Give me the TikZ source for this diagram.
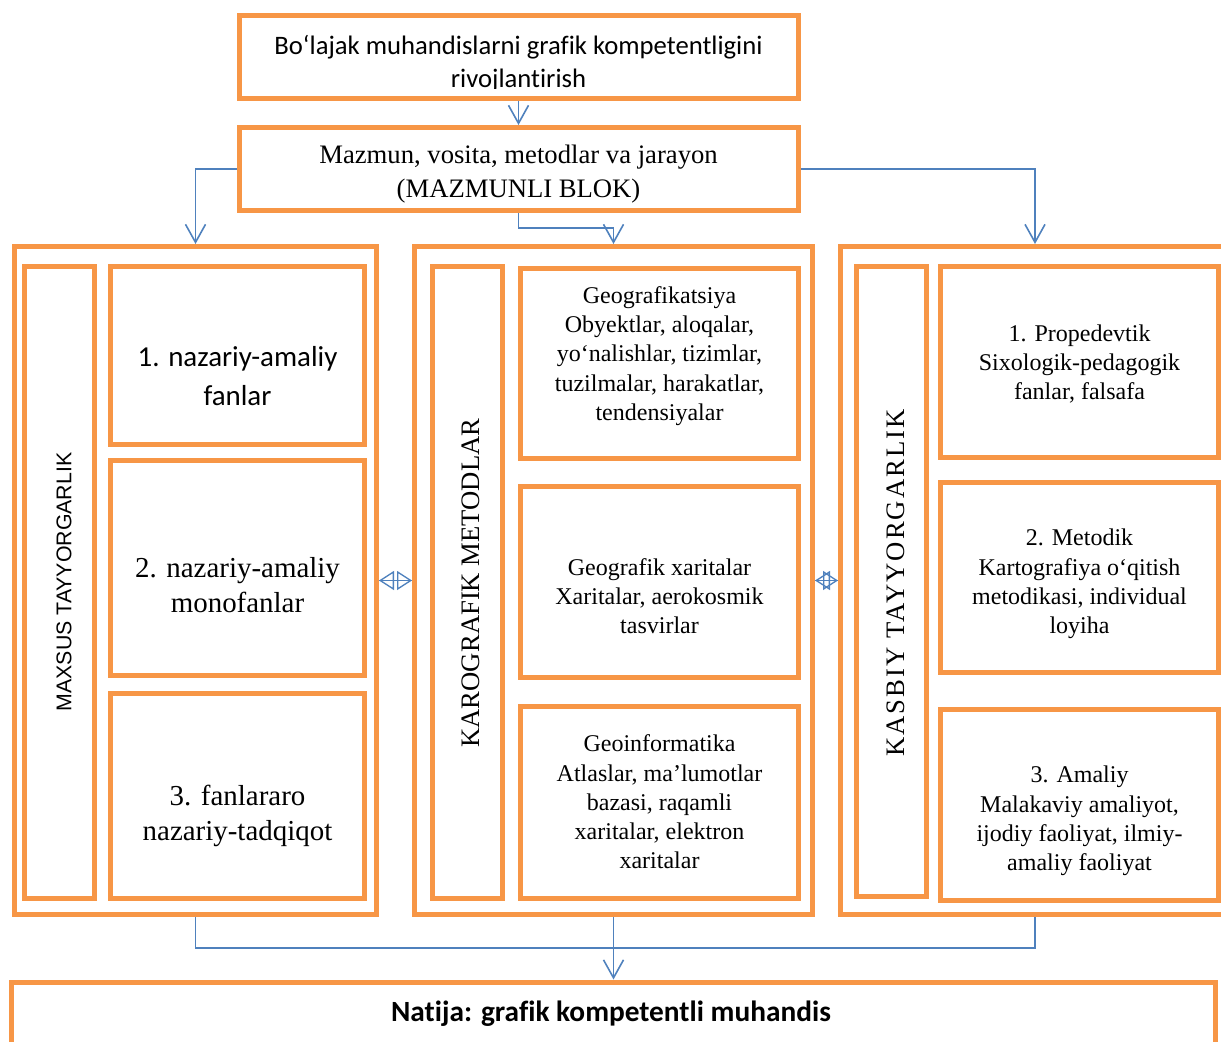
\documentclass[tikz,border=0pt]{standalone}
\usepackage{fontspec}
\usepackage{tikz}
\usepackage{xcolor}
\usetikzlibrary{arrows.meta,positioning,calc}
\setmainfont[Ligatures={TeX,NoCommon}]{Liberation Serif}
\newfontfamily\calibrifont[Ligatures=NoCommon]{Carlito}
\newfontfamily\arialfont{Liberation Sans}
\newfontfamily\spacedfont[LetterSpace=7.5]{Liberation Serif}
\definecolor{boxorange}{HTML}{F79646}
\definecolor{linkblue} {HTML}{4F81BD}
\tikzset{
  pxsize/.style 2 args ={minimum width=#1*0.75pt, minimum height=#2*0.75pt},
  framebox/.style ={draw=boxorange, fill=white, line width=3.75pt, inner sep=0pt},
  boxtext/.style  ={align=center, inner sep=0pt, font=\fontsize{18}{21.9}\selectfont},
  bigtext/.style  ={align=center, inner sep=0pt, font=\fontsize{21.7}{26.25}\selectfont},
  sidetext/.style ={inner sep=0pt, rotate=90},
  linkline/.style ={draw=linkblue, line width=1.2pt},
  downarr/.style  ={-{Straight Barb[length=13.5pt,width=15pt]}, draw=linkblue, line width=1.2pt},
  bothtips/.style ={arrows={Triangle[open,length=11.25pt,width=14.25pt]-Triangle[open,length=11.25pt,width=14.25pt]},
                    draw=linkblue, line width=1pt},
}

\begin{document}
\begin{tikzpicture}[x=0.75pt,y=-0.75pt]
    \useasboundingbox (0,0) rectangle (1221,1042);

    % ----- head boxes -----
    \node[framebox,pxsize={559}{83}] (goal) at (518.5,56.5) {};
    \begin{scope}
      \clip (241,17) rectangle (796,88.5);
      \node[align=center, inner sep=0pt, font=\calibrifont\fontsize{20}{24.75}\selectfont]
        (goaltext) at (518.5,63.5) {Bo‘lajak muhandislarni grafik kompetentligini\\rivojlantirish};
    \end{scope}

    \node[framebox,pxsize={559}{83}] (maz) at (518.5,169) {};
    \node[align=center, inner sep=0pt, font=\fontsize{20}{25.5}\selectfont]
      (maztext) at (518.5,174) {Mazmun, vosita, metodlar va jarayon\\(MAZMUNLI BLOK)};

    % ----- outer containers -----
    \node[framebox,pxsize={362}{668}] (outL) at (195.5,580.5) {};
    \node[framebox,pxsize={398}{668}] (outM) at (613.5,580.5) {};
    \node[framebox,pxsize={389}{668}] (outR) at (1035,580.5) {};

    % ----- left column -----
    \node[framebox,pxsize={70}{632}] (labL) at (59.5,582.5) {};
    \node[sidetext, font=\arialfont\fontsize{16}{19}\selectfont] (labLtext) at (64,582) {MAXSUS TAYYORGARLIK};

    \node[framebox,pxsize={254}{178}]   (L1) at (237.5,355.5) {};
    \node[framebox,pxsize={254}{214.5}] (L2) at (237.5,567.75) {};
    \node[framebox,pxsize={254}{205.5}] (L3) at (237.5,795.75) {};
    \node[bigtext, font=\calibrifont\fontsize{21.7}{29.25}\selectfont] (L1text) at (237.5,376.5)
      {1. nazariy-amaliy\\fanlar};
    \node[bigtext] (L2text) at (237.5,585.5) {2. nazariy-amaliy\\monofanlar};
    \node[bigtext] (L3text) at (237.5,815.5) {3. fanlararo\\nazariy-tadqiqot};

    % ----- middle column -----
    \node[framebox,pxsize={69.5}{632}] (labM) at (467.25,582.5) {};
    \node[sidetext, font=\fontsize{20}{24}\selectfont] (labMtext) at (471,583) {KAROGRAFIK METODLAR};

    \node[framebox,pxsize={277.5}{190}]   (M1) at (659.25,363.5) {};
    \node[framebox,pxsize={277.5}{190.5}] (M2) at (659.25,581.75) {};
    \node[framebox,pxsize={277.5}{192}]   (M3) at (659.25,802.5) {};
    \node[boxtext] (M1text) at (659.5,356)
      {Geografikatsiya\\Obyektlar, aloqalar,\\yo‘nalishlar, tizimlar,\\tuzilmalar, harakatlar,\\tendensiyalar};
    \node[boxtext] (M2text) at (659.5,596)
      {Geografik xaritalar\\Xaritalar, aerokosmik\\tasvirlar};
    \node[boxtext] (M3text) at (659.5,802)
      {Geoinformatika\\Atlaslar, ma’lumotlar\\bazasi, raqamli\\xaritalar, elektron\\xaritalar};

    % ----- right column -----
    \node[framebox,pxsize={69.5}{630}] (labR) at (891.25,581.5) {};
    \node[sidetext, font=\spacedfont\fontsize{20}{24}\selectfont] (labRtext) at (896,583) {KASBIY TAYYORGARLIK};

    \node[framebox,pxsize={277.5}{191}]   (R1) at (1079.25,362) {};
    \node[framebox,pxsize={277.5}{190}]   (R2) at (1079.25,577) {};
    \node[framebox,pxsize={277.5}{190.5}] (R3) at (1079.25,804.75) {};
    \node[boxtext] (R1text) at (1079.5,364)
      {1. Propedevtik\\Sixologik-pedagogik\\fanlar, falsafa};
    \node[boxtext] (R2text) at (1079.5,584)
      {2. Metodik\\Kartografiya o‘qitish\\metodikasi, individual\\loyiha};
    \node[boxtext] (R3text) at (1079.5,821)
      {3. Amaliy\\Malakaviy amaliyot,\\ijodiy faoliyat, ilmiy-\\amaliy faoliyat};

    % ----- result -----
    \node[framebox,pxsize={1204}{78}] (result) at (613.5,1021) {};
    \node[inner sep=0pt, font=\calibrifont\bfseries\fontsize{22}{26}\selectfont] (resulttext) at (611,1014)
      {Natija: grafik kompetentli muhandis};

    % ----- connectors -----
    \draw[downarr] (goal.south) -- (maz.north);
    \draw[downarr] (maz.west) -| (outL.north);
    \draw[downarr] (maz.east) -| (outR.north);
    \draw[downarr] (maz.south) -- ++(0,15) -| (outM.north);

    \draw[linkline] (outL.east) -- (outM.west);
    \draw[bothtips] (outL.east) -- (outM.west);
    \draw[linkline] (outM.east) -- (outR.west);
    \draw[bothtips] (outM.east) -- (outR.west);

    \coordinate (merge) at (613.5,948);
    \draw[linkline] (outL.south) |- (merge) -| (outR.south);
    \draw[downarr] (outM.south) -- (result.north);
\end{tikzpicture}
\end{document}
